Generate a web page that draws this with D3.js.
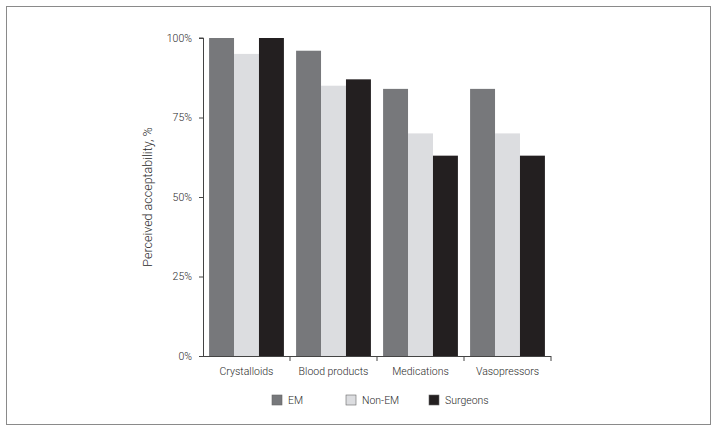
<!DOCTYPE html>
<html>
<head>
<meta charset="utf-8">
<script src="https://cdn.jsdelivr.net/npm/d3@7"></script>
<style>
  body { margin: 0; background: #fff; }
  svg text { font-family: Roboto, "Liberation Sans", sans-serif; font-weight: 300; fill: #2a2a2a; }
</style>
</head>
<body>
<svg id="chart" width="716" height="431"></svg>
<script>
var categories = ["Crystalloids", "Blood products", "Medications", "Vasopressors"];
var groups = ["EM", "Non-EM", "Surgeons"];
var emValues = [100, 96, 84, 84];
var nonEmValues = [95, 85, 70, 70];
var surgeonValues = [100, 87, 63, 63];
var yTicks = [0, 25, 50, 75, 100];

var colours = ["#77787b", "#dcdde0", "#231f20"];
var series = [emValues, nonEmValues, surgeonValues];

var margin = { top: 38, left: 203, right: 165, bottom: 75 };
var width = 716 - margin.left - margin.right;
var height = 431 - margin.top - margin.bottom;

var svg = d3.select("#chart");

// outer frame
svg.append("rect")
    .attr("x", 6.5).attr("y", 6.5)
    .attr("width", 704).attr("height", 418)
    .attr("fill", "none")
    .attr("stroke", "#8a8a8a")
    .attr("stroke-width", 1);

var g = svg.append("g")
    .attr("transform", "translate(" + margin.left + "," + margin.top + ")");

var x0 = d3.scaleBand()
    .domain(categories)
    .range([0, width])
    .paddingInner(0.14)
    .paddingOuter(0.07);

var x1 = d3.scaleBand()
    .domain(groups)
    .range([0, x0.bandwidth()]);

var y = d3.scaleLinear()
    .domain([0, 100])
    .range([height, 0]);

var rows = categories.map(function (c, i) {
    return groups.map(function (gname, j) {
        return { cat: c, group: gname, value: series[j][i], idx: j };
    });
});

g.selectAll("g.cat")
    .data(rows)
    .enter().append("g")
    .attr("class", "cat")
    .attr("transform", function (d) { return "translate(" + x0(d[0].cat) + ",0)"; })
    .selectAll("rect")
    .data(function (d) { return d; })
    .enter().append("rect")
    .attr("x", function (d) { return x1(d.group); })
    .attr("y", function (d) { return y(d.value); })
    .attr("width", x1.bandwidth())
    .attr("height", function (d) { return height - y(d.value); })
    .attr("fill", function (d) { return colours[d.idx]; });

// y axis
var yAxis = g.append("g")
    .call(d3.axisLeft(y).tickValues(yTicks).tickSize(4).tickPadding(7)
        .tickFormat(function (d) { return d + "%"; }));
yAxis.select(".domain").attr("d", "M-4," + y(100) + "H0.5V" + height);
yAxis.selectAll("line, path").attr("stroke", "#444");
yAxis.selectAll("text").style("font-size", "10.5px");

// x axis with ticks between categories
var xAxis = g.append("g")
    .attr("transform", "translate(0," + height + ")");
xAxis.append("line")
    .attr("x1", 0).attr("x2", width)
    .attr("y1", 0.5).attr("y2", 0.5)
    .attr("stroke", "#444");
var bounds = d3.range(categories.length + 1).map(function (i) { return i * width / categories.length; });
xAxis.selectAll("line.tk")
    .data(bounds.slice(1))
    .enter().append("line")
    .attr("class", "tk")
    .attr("x1", function (d) { return d; }).attr("x2", function (d) { return d; })
    .attr("y1", 0).attr("y2", 5)
    .attr("stroke", "#444");
xAxis.selectAll("text")
    .data(categories)
    .enter().append("text")
    .attr("x", function (d, i) { return (bounds[i] + bounds[i + 1]) / 2; })
    .attr("y", 19)
    .attr("text-anchor", "middle")
    .style("font-size", "10.5px")
    .text(function (d) { return d; });

// y label
svg.append("text")
    .attr("transform", "translate(152," + (margin.top + height / 2) + ") rotate(-90)")
    .attr("text-anchor", "middle")
    .style("font-size", "12.5px")
    .text("Perceived acceptability, %");

// legend
var legendX = [272, 346, 429];
var legend = svg.selectAll("g.legend")
    .data(groups)
    .enter().append("g")
    .attr("class", "legend")
    .attr("transform", function (d, i) { return "translate(" + legendX[i] + ",395)"; });
legend.append("rect")
    .attr("width", 10).attr("height", 10)
    .attr("fill", function (d, i) { return colours[i]; })
    .attr("stroke", "#666").attr("stroke-width", 0.6);
legend.append("text")
    .attr("x", 16).attr("y", 9)
    .style("font-size", "10.5px")
    .text(function (d) { return d; });
</script>
</body>
</html>
